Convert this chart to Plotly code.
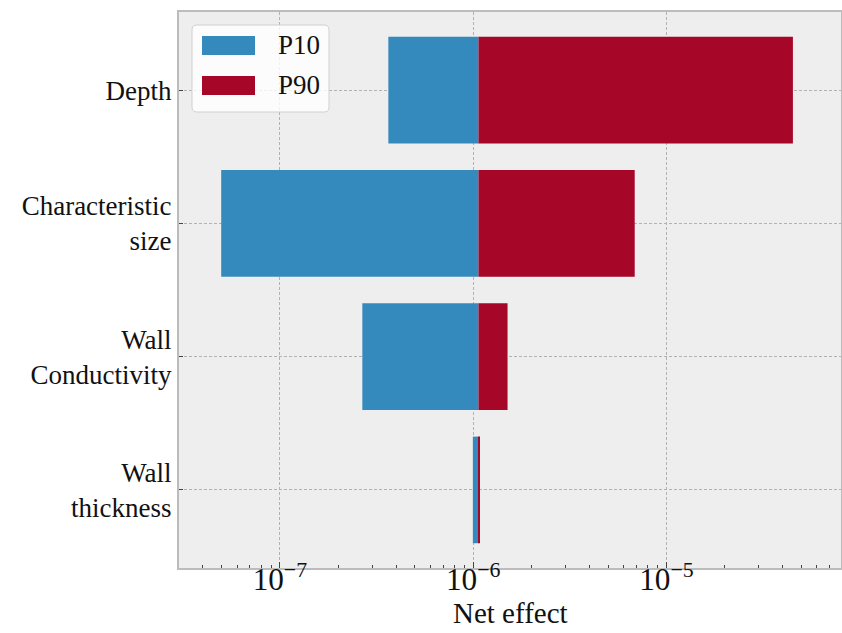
import plotly.graph_objects as go

# ---- data ----
params = ["Depth", "Characteristic<br>size", "Wall<br>Conductivity", "Wall<br>thickness"]
base_value = 1.065e-6
p10_values = [3.64e-7, 4.97e-8, 2.67e-7, 0.996e-6]
p90_values = [4.51e-5, 6.85e-6, 1.506e-6, 1.078e-6]
series_names = ["P10", "P90"]
colors = ["#348ABD", "#A60628"]
x_title = "Net effect"

# ---- layout geometry (pixels) ----
W, H = 842, 633
ML, MR, MT, MB = 179, 1, 12, 65
PW, PH = W - ML - MR, H - MT - MB
FONT = "Liberation Serif, Times New Roman, serif"


def px(x):
    return (x - ML) / PW


def py(y):
    return (H - MB - y) / PH


fig = go.Figure()
fig.add_trace(go.Bar(
    y=params, x=[base_value - v for v in p10_values], base=p10_values,
    orientation="h", width=0.8, name=series_names[0],
    marker=dict(color=colors[0], line=dict(width=0)), showlegend=False))
fig.add_trace(go.Bar(
    y=params, x=[v - base_value for v in p90_values], base=[base_value] * len(params),
    orientation="h", width=0.8, name=series_names[1],
    marker=dict(color=colors[1], line=dict(width=0)), showlegend=False))

# ---- custom legend ----
x0, x1, y0, y1, r = 192, 329, 25, 112, 5
path = (f"M {px(x0 + r)},{py(y0)} L {px(x1 - r)},{py(y0)} "
        f"Q {px(x1)},{py(y0)} {px(x1)},{py(y0 + r)} L {px(x1)},{py(y1 - r)} "
        f"Q {px(x1)},{py(y1)} {px(x1 - r)},{py(y1)} L {px(x0 + r)},{py(y1)} "
        f"Q {px(x0)},{py(y1)} {px(x0)},{py(y1 - r)} L {px(x0)},{py(y0 + r)} "
        f"Q {px(x0)},{py(y0)} {px(x0 + r)},{py(y0)} Z")
shapes = [dict(type="path", xref="paper", yref="paper", path=path,
               fillcolor="rgba(255,255,255,0.8)", line=dict(color="#d0d0d0", width=1))]
annotations = []
for i, (nm, col) in enumerate(zip(series_names, colors)):
    cy = 45.5 + 40 * i
    shapes.append(dict(type="rect", xref="paper", yref="paper",
                       x0=px(202), x1=px(255), y0=py(cy - 9.5), y1=py(cy + 9.5),
                       fillcolor=col, line=dict(width=0)))
    annotations.append(dict(xref="paper", yref="paper", x=px(276), y=py(cy),
                            text=nm, showarrow=False, xanchor="left", yanchor="middle",
                            font=dict(family=FONT, size=27, color="#111")))

# x-axis title as annotation for exact placement
annotations.append(dict(xref="paper", yref="paper", x=0.5, y=py(613),
                        text=x_title, showarrow=False, xanchor="center", yanchor="middle",
                        font=dict(family=FONT, size=29, color="#111")))

fig.update_layout(
    width=W, height=H,
    margin=dict(l=ML, r=MR, t=MT, b=MB, pad=0, autoexpand=False),
    paper_bgcolor="white", plot_bgcolor="#EEEEEE",
    barmode="overlay", bargap=0.2,
    font=dict(family=FONT, size=26, color="#111"),
    shapes=shapes, annotations=annotations,
    xaxis=dict(
        type="log", range=[-7.522, -4.097], dtick=1, exponentformat="power",
        showgrid=True, gridcolor="#B2B2B2", griddash="3px,2px", gridwidth=1,
        ticks="inside", ticklen=6, tickcolor="#444", tickwidth=1,
        minor=dict(ticks="inside", ticklen=3, tickcolor="#444", showgrid=False),
        showline=True, linecolor="#BCBCBC", linewidth=2, mirror=True,
        zeroline=False, automargin=False, ticklabelstandoff=-16,
        tickfont=dict(family=FONT, size=25, color="#111"),
    ),
    yaxis=dict(
        type="category", categoryorder="array", categoryarray=params,
        range=[3.586, -0.586],
        showgrid=True, gridcolor="#B2B2B2", griddash="3px,2px", gridwidth=1,
        ticks="inside", ticklen=4, tickcolor="#444", tickwidth=1,
        showline=True, linecolor="#BCBCBC", linewidth=2, mirror=True,
        zeroline=False, ticklabelstandoff=0, automargin=False,
        tickfont=dict(family=FONT, size=27, color="#111"),
    ),
)

fig.write_html("out.html")
